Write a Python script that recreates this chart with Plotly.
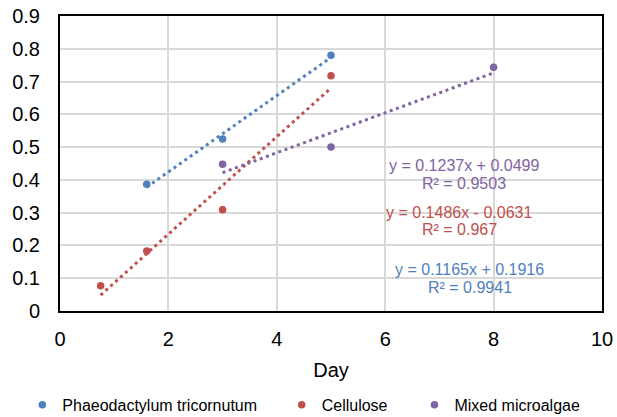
import numpy as np
import plotly.graph_objects as go

# Measured values per culture
days_pt = [1.6, 3.0, 5.0]
od_pt = [0.387, 0.525, 0.780]

days_cel = [0.75, 1.6, 3.0, 5.0]
od_cel = [0.077, 0.183, 0.309, 0.718]

days_mix = [3.0, 5.0, 8.0]
od_mix = [0.448, 0.500, 0.744]

names = ["Phaeodactylum tricornutum", "Cellulose", "Mixed microalgae"]
colors = ["#4F81BD", "#C0504D", "#8064A2"]

# Trendline equation labels
eq_text = [
    ("y = 0.1165x + 0.1916", "R² = 0.9941"),
    ("y = 0.1486x - 0.0631", "R² = 0.967"),
    ("y = 0.1237x + 0.0499", "R² = 0.9503"),
]

series = [(days_pt, od_pt), (days_cel, od_cel), (days_mix, od_mix)]
legend_ids = ["legend", "legend2", "legend3"]

fig = go.Figure()

for (xs, ys), name, col, lg in zip(series, names, colors, legend_ids):
    # linear least-squares trendline over the measured range
    k, b = np.polyfit(xs, ys, 1)
    tx = np.array([min(xs), max(xs)])
    fig.add_trace(go.Scatter(
        x=tx, y=k * tx + b, mode="lines",
        line=dict(color=col, width=3, dash="3px,3.6px"),
        showlegend=False, hoverinfo="skip",
    ))
    fig.add_trace(go.Scatter(
        x=xs, y=ys, mode="markers", name=name,
        marker=dict(color=col, size=7.5),
        legend=lg,
    ))

# Equation annotations (line 1 and line 2 for each fit)
eq_pos = [(7.56, 0.128, 0.073), (7.37, 0.301, 0.250), (7.45, 0.443, 0.390)]
for (l1, l2), (ex, ey1, ey2), col in zip(eq_text, eq_pos, colors):
    for txt, yy in ((l1, ey1), (l2, ey2)):
        fig.add_annotation(
            x=ex, y=yy, xref="x", yref="y", text=txt, showarrow=False,
            font=dict(family="Liberation Sans, Arial", size=16, color=col),
            xanchor="center", yanchor="middle",
        )

legend_style = dict(
    orientation="h", yanchor="middle", xanchor="left",
    font=dict(family="Liberation Sans, Arial", size=16, color="#000000"),
    bgcolor="rgba(0,0,0,0)", itemwidth=30,
)
fig.update_layout(
    width=617, height=417,
    margin=dict(l=60, r=15, t=16, b=106, autoexpand=False),
    paper_bgcolor="white", plot_bgcolor="white",
    font=dict(family="Liberation Sans, Arial", color="#000000"),
    legend=dict(x=-0.0695, y=-0.318, **legend_style),
    legend2=dict(x=0.409, y=-0.318, **legend_style),
    legend3=dict(x=0.654, y=-0.318, **legend_style),
    xaxis=dict(
        range=[0, 10], dtick=2, tick0=0,
        showgrid=True, gridcolor="#D9D9D9", gridwidth=2,
        showline=True, linecolor="#000000", linewidth=2, mirror=True,
        zeroline=False, ticks="", ticklabelstandoff=9,
        tickfont=dict(size=20),
        title=dict(text="Day", font=dict(size=20), standoff=14),
    ),
    yaxis=dict(
        range=[0, 0.9], dtick=0.1, tick0=0,
        showgrid=True, gridcolor="#D9D9D9", gridwidth=2,
        showline=True, linecolor="#000000", linewidth=2, mirror=True,
        zeroline=False, ticks="", ticklabelstandoff=14,
        tickfont=dict(size=20),
    ),
)

fig.write_html("out.html")
